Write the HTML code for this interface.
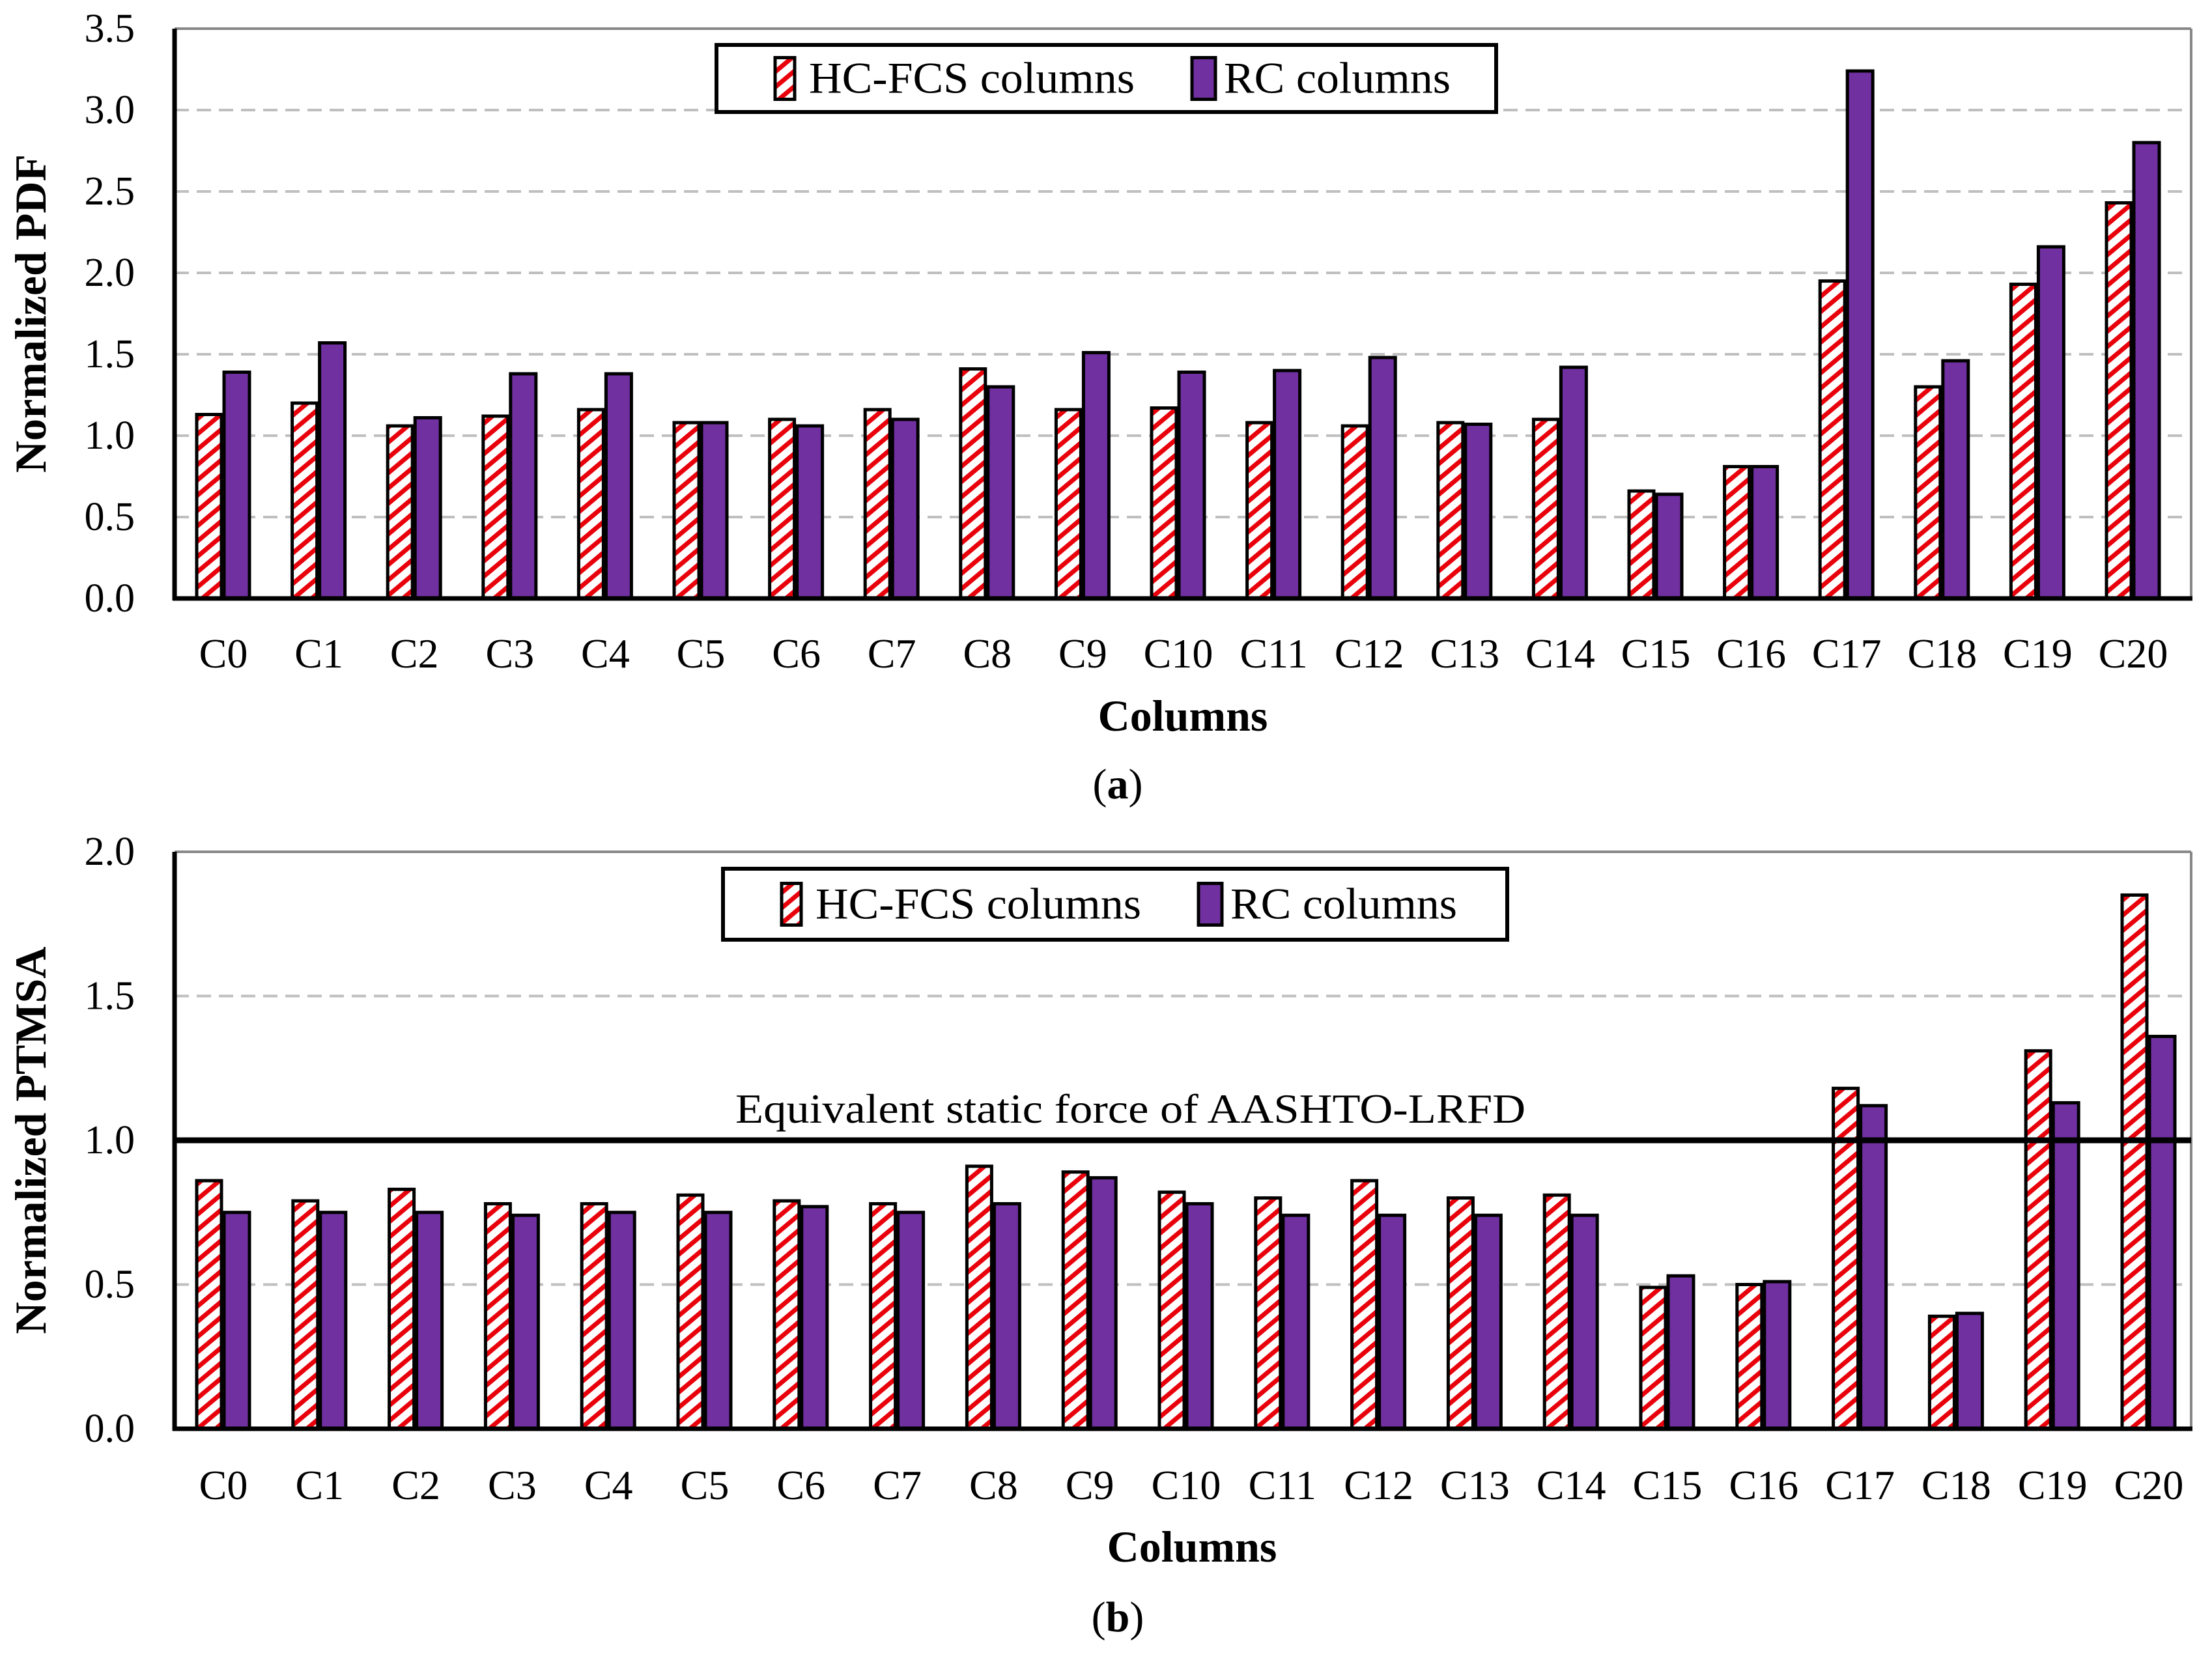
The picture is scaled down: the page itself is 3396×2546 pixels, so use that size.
<!DOCTYPE html>
<html><head><meta charset="utf-8">
<style>
html,body{margin:0;padding:0;background:#fff;}
svg{display:block;font-family:"Liberation Serif",serif;}
</style></head>
<body>
<svg id="fig" width="3396" height="2546" viewBox="0 0 3396 2546" xmlns="http://www.w3.org/2000/svg">
<defs>
<pattern id="hatch" patternUnits="userSpaceOnUse" width="18" height="18" patternTransform="rotate(50)">
<rect width="18" height="18" fill="#fff"/>
<rect x="0" y="0" width="7" height="18" fill="#e8000b"/>
</pattern>
</defs>
<g id="root"></g>
</svg>
<script>
const categories = ["C0","C1","C2","C3","C4","C5","C6","C7","C8","C9","C10","C11","C12","C13","C14","C15","C16","C17","C18","C19","C20"];
const pdfHC = [1.13,1.20,1.06,1.12,1.16,1.08,1.10,1.16,1.41,1.16,1.17,1.08,1.06,1.08,1.10,0.66,0.81,1.95,1.30,1.93,2.43];
const pdfRC = [1.39,1.57,1.11,1.38,1.38,1.08,1.06,1.10,1.30,1.51,1.39,1.40,1.48,1.07,1.42,0.64,0.81,3.24,1.46,2.16,2.80];
const ptHC = [0.86,0.79,0.83,0.78,0.78,0.81,0.79,0.78,0.91,0.89,0.82,0.80,0.86,0.80,0.81,0.49,0.50,1.18,0.39,1.31,1.85];
const ptRC = [0.75,0.75,0.75,0.74,0.75,0.75,0.77,0.75,0.78,0.87,0.78,0.74,0.74,0.74,0.74,0.53,0.51,1.12,0.40,1.13,1.36];
const ticksA = ["0.0","0.5","1.0","1.5","2.0","2.5","3.0","3.5"];
const ticksB = ["0.0","0.5","1.0","1.5","2.0"];
const refValue = 1.0;

const NS = "http://www.w3.org/2000/svg";
const root = document.getElementById('root');
function mk(tag, attrs, parent, text){
  const e = document.createElementNS(NS, tag);
  for (const k in attrs) e.setAttribute(k, attrs[k]);
  if (text !== undefined) e.textContent = text;
  (parent||root).appendChild(e);
  return e;
}

function chart(cfg){
  const g = mk('g', {});
  
  
  const L = 268, R = 3364, T = cfg.top, B = cfg.bottom;
  const maxV = cfg.max;
  const y = v => B - v / maxV * (B - T);
  const step = cfg.step;
  const xc = i => 343 + step * i;
  cfg.ticks.forEach(t => {
    const v = parseFloat(t);
    if (v > 0 && v < maxV) {
      const gl = mk('line', {x1:L, x2:R, y1:y(v), y2:y(v), stroke:'#bfbfbf', 'stroke-width':4, 'stroke-dasharray':'22,12'}, g);
      
      
    }
    const tl = mk('text', {x:207, y:y(v)+20, 'text-anchor':'end', 'font-size':62, fill:'#000'}, g, t);
    
    
  });
  mk('line', {x1:L, x2:R, y1:T, y2:T, stroke:'#888', 'stroke-width':4}, g);
  mk('line', {x1:R, x2:R, y1:T, y2:B, stroke:'#888', 'stroke-width':4}, g);
  categories.forEach((c, i) => {
    const cx = xc(i);
    const h = mk('rect', {x:cx-41, y:y(cfg.hc[i]), width:38, height:B-y(cfg.hc[i]), fill:'url(#hatch)', stroke:'#000', 'stroke-width':5}, g);
    
    
    const r = mk('rect', {x:cx+1, y:y(cfg.rc[i]), width:39, height:B-y(cfg.rc[i]), fill:'#7030a0', stroke:'#000', 'stroke-width':5}, g);
    
    
    const lb = mk('text', {x:cx, y:cfg.labelY, 'text-anchor':'middle', 'font-size':64, fill:'#000'}, g, c);
    
    
  });
  if (cfg.ref) {
    const rl = mk('line', {x1:L, x2:R, y1:y(refValue), y2:y(refValue), stroke:'#000', 'stroke-width':9}, g);
    
    
    const rt = mk('text', {x:1129, y:y(refValue)-27, 'font-size':64, textLength:1213, lengthAdjust:'spacingAndGlyphs'}, g, 'Equivalent static force of AASHTO-LRFD');
    
    
  }
  mk('line', {x1:L, x2:L, y1:T, y2:B+3, stroke:'#000', 'stroke-width':7}, g);
  mk('line', {x1:L-3, x2:R+2, y1:B, y2:B, stroke:'#000', 'stroke-width':7}, g);
  const yt = mk('text', {x:0, y:0, 'text-anchor':'middle', 'font-size':68, 'font-weight':'bold', transform:`translate(70,${(T+B)/2}) rotate(-90)`}, g, cfg.ytitle);
  
  
  const xt = mk('text', {x:cfg.colX, y:cfg.colY, 'text-anchor':'middle', 'font-size':68, 'font-weight':'bold'}, g, 'Columns');
  
  
  const cap = mk('text', {x:1716, y:cfg.capY, 'text-anchor':'middle', 'font-size':66}, g);
  
  
  mk('tspan', {}, cap, '(');
  mk('tspan', {'font-weight':'bold'}, cap, cfg.cap);
  mk('tspan', {}, cap, ')');
  const lg = mk('g', {}, g);
  
  
  const lx = cfg.leg[0], ly = cfg.leg[1], lw = cfg.leg[2], lh = cfg.leg[3];
  mk('rect', {x:lx, y:ly, width:lw, height:lh, fill:'#fff', stroke:'#000', 'stroke-width':6}, lg);
  const cy = ly + lh/2;
  const s1 = mk('rect', {x:lx+90, y:cy-32, width:30, height:64, fill:'url(#hatch)', stroke:'#000', 'stroke-width':5}, lg);
  
  
  const t1 = mk('text', {x:lx+142, y:cy+22, 'font-size':68, textLength:500, lengthAdjust:'spacingAndGlyphs'}, lg, 'HC-FCS columns');
  
  
  const s2 = mk('rect', {x:lx+730, y:cy-32, width:36, height:64, fill:'#7030a0', stroke:'#000', 'stroke-width':5}, lg);
  
  
  const t2 = mk('text', {x:lx+779, y:cy+22, 'font-size':68, textLength:348, lengthAdjust:'spacingAndGlyphs'}, lg, 'RC columns');
  
  
}

chart({name:'chart-a-normalized-pdf', top:44, bottom:919, max:3.5, ticks:ticksA, hc:pdfHC, rc:pdfRC, step:146.6,
  labelY:1025, colX:1816, colY:1122, capY:1226, cap:'a', ytitle:'Normalized PDF', leg:[1100,69,1197,103], ref:false});
chart({name:'chart-b-normalized-ptmsa', top:1308, bottom:2194, max:2.0, ticks:ticksB, hc:ptHC, rc:ptRC, step:147.8,
  labelY:2302, colX:1830, colY:2398, capY:2505, cap:'b', ytitle:'Normalized PTMSA', leg:[1110,1334,1204,109], ref:true});
</script>
</body></html>
